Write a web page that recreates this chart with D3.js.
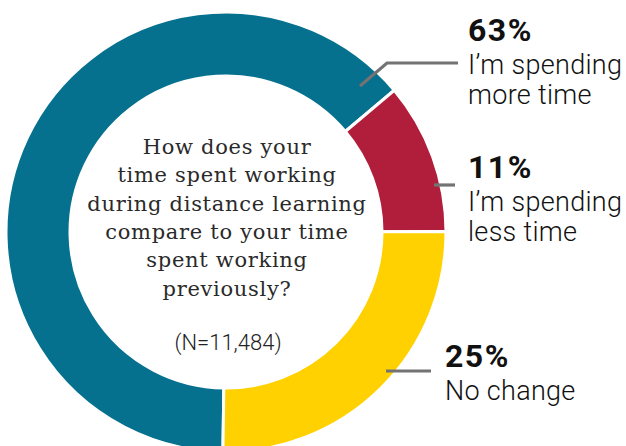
<!DOCTYPE html>
<html>
<head>
<meta charset="utf-8">
<script src="https://cdn.jsdelivr.net/npm/d3@7"></script>
<style>
  body { margin: 0; background: #fff; }
  svg { display: block; }
</style>
</head>
<body>
<svg id="chart" width="626" height="446"></svg>
<script>
var categories = ["I\u2019m spending more time", "I\u2019m spending less time", "No change"];
var values = [63, 11, 25];
var colors = ["#05718f", "#b01e3c", "#ffd100"];
var labelLines = [["I\u2019m spending", "more time"], ["I\u2019m spending", "less time"], ["No change"]];
var question = ["How does your", "time spent working", "during distance learning", "compare to your time", "spent working", "previously?"];
var sampleSize = "(N=11,484)";

var svg = d3.select("#chart");
var cx = 226, cy = 232, rOuter = 220, rInner = 156;

var pie = d3.pie().sort(null).startAngle(Math.PI + 0.014).endAngle(3 * Math.PI + 0.014);
var arc = d3.arc().innerRadius(rInner).outerRadius(rOuter);
var arcs = pie(values);

var g = svg.append("g").attr("transform", "translate(" + cx + "," + cy + ")");
g.selectAll("path").data(arcs).enter().append("path")
  .attr("d", arc)
  .attr("fill", function (d, i) { return colors[i]; })
  .attr("stroke", "#fff")
  .attr("stroke-width", 3);

// leader lines: start inside the ring, then run out to the labels
var leaders = [
  [[134, -146], [161, -169], [232, -169]],
  [[208, -47], [229, -47]],
  [[160, 139], [205, 139]]
];
g.selectAll("polyline").data(leaders).enter().append("polyline")
  .attr("points", function (d) { return d.join(" "); })
  .attr("fill", "none")
  .attr("stroke", "#737373")
  .attr("stroke-width", 3.2);

var labelPos = [[468, 41], [468, 178], [445, 367]];
var font = "Roboto, 'DejaVu Sans', sans-serif";
labelPos.forEach(function (p, i) {
  svg.append("text")
    .attr("x", p[0]).attr("y", p[1])
    .attr("font-family", font).attr("font-weight", 700)
    .attr("font-size", 32).attr("letter-spacing", 1.5).attr("fill", "#111")
    .text(values[i] + "%");
  labelLines[i].forEach(function (line, j) {
    svg.append("text")
      .attr("x", p[0]).attr("y", p[1] + 33 + j * 30)
      .attr("font-family", font).attr("font-weight", 300)
      .attr("font-size", 27).attr("letter-spacing", 0.3).attr("fill", "#111")
      .text(line);
  });
});

var qText = svg.append("text")
  .attr("text-anchor", "middle")
  .attr("font-family", "'DejaVu Serif', serif")
  .attr("font-size", 21)
  .attr("letter-spacing", 0.7)
  .attr("fill", "#2a2a2a");
question.forEach(function (line, i) {
  qText.append("tspan").attr("x", cx + 1).attr("y", 154 + i * 28.3).text(line);
});

svg.append("text")
  .attr("x", cx + 2).attr("y", 350)
  .attr("text-anchor", "middle")
  .attr("font-family", font).attr("font-weight", 300)
  .attr("font-size", 22).attr("fill", "#222")
  .text(sampleSize);
</script>
</body>
</html>
